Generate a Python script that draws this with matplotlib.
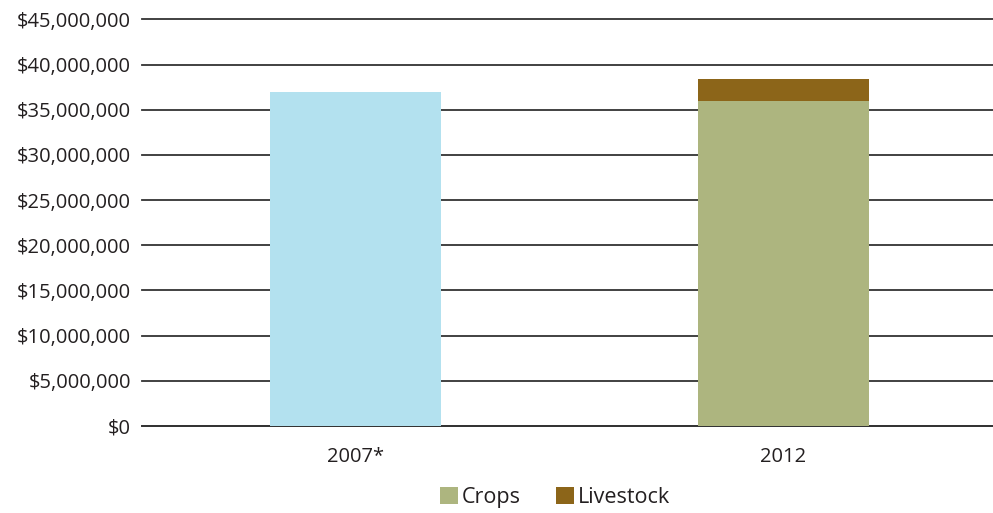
import numpy as np
import matplotlib.pyplot as plt
from matplotlib.ticker import FuncFormatter

plt.rcParams['font.family'] = ['Open Sans', 'DejaVu Sans']

years = ['2007*', '2012']
total_2007 = [37.0e6, 0]       # 2007 total only
crops = [0, 36.0e6]
livestock = [0, 2.4e6]

fig = plt.figure(figsize=(9.93, 5.13), dpi=100)
ax = fig.add_axes([0.143, 0.17, 0.857, 0.792])

x = np.arange(len(years))
w = 0.4
ax.bar(x[0], total_2007[0], width=w, color='#b3e1ef', zorder=3)
ax.bar(x[1], crops[1], width=w, color='#adb57f', label='Crops', zorder=3)
ax.bar(x[1], livestock[1], width=w, bottom=crops[1], color='#8c6519', label='Livestock', zorder=3)

ax.set_xlim(-0.5, 1.49)
ax.set_ylim(0, 45e6)
ax.set_yticks(np.arange(0, 45e6 + 1, 5e6))
ax.yaxis.set_major_formatter(FuncFormatter(lambda v, p: '${:,.0f}'.format(v)))
ax.set_xticks(x)
ax.set_xticklabels(years)
ax.grid(axis='y', color='#333333', linewidth=1.3, zorder=0)
for gl in ax.get_ygridlines():
    gl.set_clip_on(False)
for s in ['top', 'right', 'left']:
    ax.spines[s].set_visible(False)
ax.spines['bottom'].set_color('#333333')
ax.spines['bottom'].set_linewidth(1.3)
ax.tick_params(axis='y', length=0, pad=8, labelsize=14.5, labelcolor='#231f20')
ax.tick_params(axis='x', length=0, pad=15, labelsize=14.5, labelcolor='#231f20')

fig.legend(loc='center', bbox_to_anchor=(0.559, 0.03), ncol=2, frameon=False,
           fontsize=15.5, handlelength=0.85, handleheight=0.85, handletextpad=0.2,
           columnspacing=1.6, labelcolor='#231f20')

fig.savefig('out.png', dpi=100)
